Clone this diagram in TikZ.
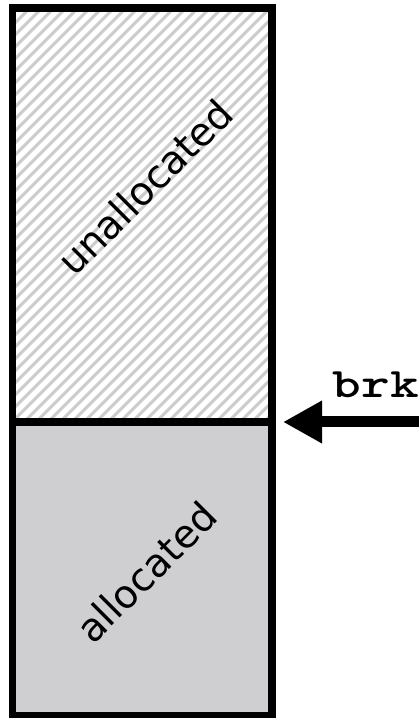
\documentclass[tikz,border=0pt]{standalone}
\usepackage{fontspec}
\setmainfont{DejaVu Sans}
\usetikzlibrary{arrows.meta}
\definecolor{usedgray}{RGB}{207,206,208}
\definecolor{hatchgray}{RGB}{204,204,204}
\tikzset{
  region/.style={draw=black, line width=7.5pt, inner sep=0pt, outer sep=0pt,
                 minimum width=259.5pt},
  hatchline/.style={draw=hatchgray, line width=3pt},
  regionlabel/.style={rotate=45, font=\fontsize{39}{41}\selectfont},
  pointer/.style={line width=11pt, -{Triangle[length=39pt,width=40pt]}},
}
\begin{document}
\begin{tikzpicture}[x=1pt,y=1pt]
  \useasboundingbox (0,0) rectangle (418,718);
  % diagonal hatching of the free region
  \begin{scope}
    \clip (12.5,296) rectangle (272,710);
    \foreach \k in {-40,...,30}
      \draw[hatchline] (\k*12,296) -- ++(420,420);
  \end{scope}
  % the two regions of the heap
  \node[region, minimum height=414pt, anchor=north west] (free) at (12.5,710) {};
  \node[region, fill=usedgray, minimum height=294pt, anchor=north west] (used) at (12.5,296) {};
  % labels
  \node[regionlabel] (freelabel) at (145,531) {unallocated};
  \node[regionlabel] (usedlabel) at (146,146) {allocated};
  % break pointer
  \coordinate (tail) at (420,296);
  \coordinate (tip) at (283,296);
  \draw[pointer] (tail) -- (tip);
  \node[anchor=base east, inner sep=0pt, xscale=1.3, draw=none,
        font=\ttfamily\bfseries\fontsize{42}{44}\selectfont] (brk) at (419,320) {brk};
\end{tikzpicture}
\end{document}
